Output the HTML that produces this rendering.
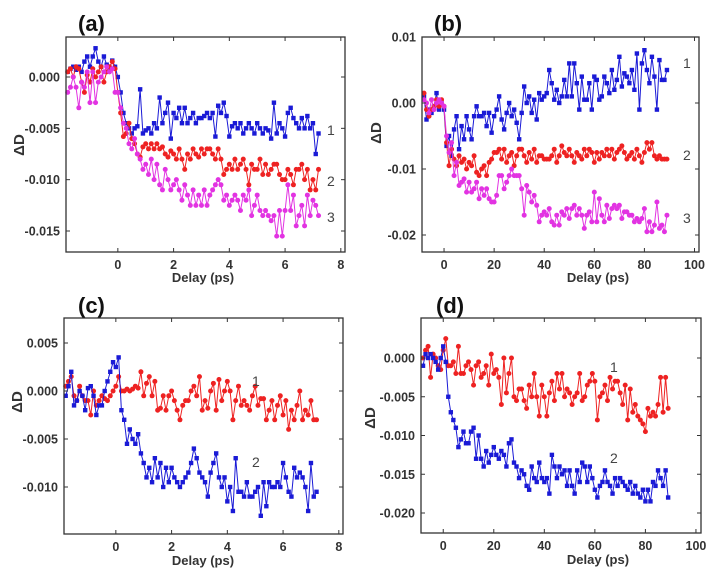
<!DOCTYPE html>
<html><head><meta charset="utf-8"><style>
html,body{margin:0;padding:0;background:#fff;}
svg{display:block;font-family:"Liberation Sans",Arial,sans-serif;}
.tk{font-size:12.5px;font-weight:bold;fill:#333;}
.pl{font-size:22px;font-weight:bold;fill:#111;}
.al{font-size:13px;font-weight:bold;fill:#333;}
.ay{font-size:15px;font-weight:bold;fill:#333;}
.sl{font-size:14px;fill:#444;}
</style></head><body>
<svg id="fig" width="722" height="579" viewBox="0 0 722 579"></svg>
<script>
// values in units of 1e-3 (ΔD × 1000)
const tShort = [-1.8,-1.7,-1.6,-1.5,-1.4,-1.3,-1.2,-1.1,-1.0,-0.9,-0.8,-0.7,-0.6,-0.5,-0.4,-0.3,-0.2,-0.1,0.0,0.1,0.2,0.3,0.4,0.5,0.6,0.7,0.8,0.9,1.0,1.1,1.2,1.3,1.4,1.5,1.6,1.7,1.8,1.9,2.0,2.1,2.2,2.3,2.4,2.5,2.6,2.7,2.8,2.9,3.0,3.1,3.2,3.3,3.4,3.5,3.6,3.7,3.8,3.9,4.0,4.1,4.2,4.3,4.4,4.5,4.6,4.7,4.8,4.9,5.0,5.1,5.2,5.3,5.4,5.5,5.6,5.7,5.8,5.9,6.0,6.1,6.2,6.3,6.4,6.5,6.6,6.7,6.8,6.9,7.0,7.1,7.2];
const tLong = [-8,-7,-6,-5,-4,-3,-2,-1,0,1,2,3,4,5,6,7,8,9,10,11,12,13,14,15,16,17,18,19,20,21,22,23,24,25,26,27,28,29,30,31,32,33,34,35,36,37,38,39,40,41,42,43,44,45,46,47,48,49,50,51,52,53,54,55,56,57,58,59,60,61,62,63,64,65,66,67,68,69,70,71,72,73,74,75,76,77,78,79,80,81,82,83,84,85,86,87,88,89];

const a1 = [0.5,0.8,1,0.7,1,0.5,1.5,2,1,2, 2.8,1.5,1,2,1.2,0.8,1.6,1,0,-1.5, -3.5,-4.5,-5,-5.5,-5,-4.8,-1.2,-5.5,-5.2,-5, -5.5,-4.5,-5,-2,-4.5,-3.5,-2.5,-6,-3.5,-4, -3,-4.5,-3,-4.5,-4,-3.5,-4.5,-4,-4,-3.8, -3.5,-4,-3.5,-5.8,-2.8,-3.5,-2.5,-3.8,-5.8,-4.8, -4.5,-5,-4.5,-5.5,-5,-4.5,-5,-5.5,-4.5,-5, -5.5,-5,-5.2,-6,-2.5,-5.5,-4.5,-5,-5.8,-3.5, -3,-4,-4.5,-5,-4,-5,-3.8,-5,-4.5,-7.5, -5.5];
const a2 = [0.5,0.8,0,1,0.8,-0.5,-1.5,0.2,-0.5,0.8, 0,0.5,1,-0.5,0.5,1,1.5,0.8,-1.5,-3.5, -5.8,-5.5,-4.5,-6,-6.5,-7.5,-7.8,-6.8,-6.5,-7, -6.5,-7,-6.5,-7,-6.8,-7.5,-7.8,-7.2,-7.5,-8, -7,-8,-9,-7.5,-8,-7,-7.5,-7.8,-7,-7.5, -7,-7,-7.5,-8,-7,-8,-9.5,-9,-8.5,-9, -8,-9,-8.5,-8,-9,-10.5,-8.5,-9,-9,-8, -9.5,-8.5,-9.5,-9,-8.5,-8.5,-9.5,-10,-10,-9, -9.5,-10.5,-9,-9,-8.5,-10,-9,-11,-10,-11, -9];
const a3 = [-1.5,-1,0,-1,-3,-0.5,-1,0.5,-2.5,0.5, -2.5,-0.5,0,0.5,1,0.5,0.8,-1.5,-1.5,-3, -4.5,-5,-6.5,-7,-6,-7.5,-8,-9,-8.5,-9.5, -8,-10,-8.5,-10.5,-11,-9,-10,-11,-10.5,-10, -11,-12,-10.5,-11.5,-12.5,-11,-12.5,-11.5,-12.5,-11, -12.5,-11.5,-11,-10.5,-10,-10.5,-12,-11.5,-12.5,-12, -11.5,-12,-13,-11.5,-12,-11,-13.5,-12.5,-11.5,-13, -13.5,-13,-13.5,-14,-13.5,-15.5,-13,-15.5,-13,-10.5, -13,-11.5,-14.5,-13.5,-12.5,-14.5,-11.5,-13.5,-12,-12.5, -13.5];

const c1 = [0.5,1,1.5,-0.5,-1,0.5,-0.5,-1,-1,-2.5, 0,-1.5,-1,-0.5,-0.8,-1,-0.5,0,0.5,1.5, 0,0,0.2,0,0.2,0.5,0.3,2,-0.5,0.8, 1.5,-0.5,1,-2,-1.8,-0.5,-2,-0.5,0,-1, -2,-3,-1.5,-1,-1,0,0.5,-0.5,1.5,-2, -1,-1.8,0,0.8,-2,1.2,-1,0,1,0, -3,-1,0.5,-1.5,-1,-1.5,-2,-0.5,0.5,-1.5, -0.8,-0.8,-3,-2,-1,-3,-1.5,-0.5,-2.5,-1, -4,-2,-3,-1.5,0,-3,-2,-2.5,-1,-3, -3];
const c2 = [-0.5,0.5,2,-1.5,-1,0,-0.5,-2,0.3,0.5, -0.5,-2.5,-1.5,-1.5,0,1,2,3,2.5,3.5, -2,-3,-5.5,-4,-5,-5.5,-4.5,-6.5,-7.5,-9, -8,-9.5,-7,-9,-7.5,-10,-8,-9.5,-8,-9, -9.5,-10,-9.5,-9,-8.5,-7.5,-6,-7,-8.5,-9, -9.5,-11,-8.5,-7.5,-6.5,-9,-10,-9,-11.5,-10, -12.5,-7,-10.5,-10.5,-11,-9.5,-11,-11,-10.5,-10, -13,-9.5,-12,-9.5,-10,-10,-9.5,-10,-7.5,-9, -10.5,-11,-8,-9,-8.5,-9,-10,-12.5,-7.5,-11, -10.5];

const b1 = [1,-2.5,-1,-1.5,-0.5,1.5,-1,0,-1,-6.5, -5,-8,-4,-2,-7,-3.5,-5.5,-2,-4,-5.5, -2,-0.5,-2,-2,-1.5,-3.5,-1.5,-4.5,-2,-1, 1,-2.5,-4,-1.5,0,-2,-1,-3,-5.5,-1.5, 2.5,0,1,-1.5,0.5,-2.5,1.5,0.5,1,1.5, 5,3,0.5,2,0,1,3.5,1,6,1, 6,3,-1,4,0.5,0.5,3,-1,4,3.5, 0.5,1,4,3,1.5,5,2,3.5,7,2.5, 4.5,4,3,5,2,7.5,-1,6,8,5, 3,7,4,-1,6.5,3.5,3.5,5];
const b2 = [1.5,-1,-2,-1,-0.5,0.5,-0.5,0.5,-0.5,-6, -9.5,-7,-8.5,-9.5,-8,-9,-8.5,-10,-9,-9.5, -8,-10.5,-11,-10,-9.5,-11,-9,-8.5,-7.5,-7.5, -7,-8.5,-7,-9,-8,-7.5,-9.5,-8,-7,-7, -8,-9,-7.5,-8.5,-7,-9,-8,-8,-8.5,-8.5, -8.5,-8,-7,-9,-8,-6.5,-7.5,-8,-7,-8, -9,-7.5,-8,-8.5,-7,-8,-7,-7.5,-9,-7.5, -8.5,-7.5,-8,-7,-8,-7,-8.5,-7.5,-7,-6.5, -7.5,-8.5,-8,-7.5,-8.5,-7,-8,-9,-7.5,-6, -7,-6,-8,-8.5,-8,-8.5,-8.5,-8.5];
const b3 = [0.5,0,-1.5,0.5,-1,0,0.5,0,-0.5,-5, -7.5,-6,-11,-9,-12.5,-12,-11.5,-13.5,-12,-13.5, -13,-12,-14.5,-13,-14,-13,-14.5,-15,-15,-14, -11,-11,-13,-12,-11,-10,-11,-11,-11,-13, -17,-12.5,-13.5,-15,-14,-15.5,-18,-17,-16.5,-17, -16,-18,-18.5,-17,-18.5,-16.5,-17,-16,-17.5,-16, -15.5,-17,-16,-17,-19,-17,-16.5,-18,-13.5,-18, -14.5,-17,-18,-15.5,-17.5,-16,-15.5,-16,-15.5,-17.5, -16.5,-16.5,-17,-17,-18,-17.5,-18,-17.5,-16,-19.5, -18,-19.5,-18.5,-15,-19,-18.5,-19.5,-17];

const d1 = [0,1,1.5,-2.5,0.5,0,-1,-1.5,1,2.5, -1,-1,-0.5,-2,1.5,-2,-2,-1,-0.5,-1.5, -3.5,-1,-0.5,-2.5,-2,-1,-3.5,0.5,-2,-1.5, -2.5,-6,0,-4.5,-2,0,-5,-5.5,-4,-4, -5.5,-6.5,-3.5,-5,-2,-5,-7.5,-3.5,-5,-7.5, -4.5,-3,-5.5,-2,-4,-2,-5,-4,-4.5,-6, -5,-4.5,-2,-5.5,-5,-3.5,-3,-2,-3,-8, -5,-4.5,-3.5,-5.5,-2.5,-4,-3,-3,-4.5,-6, -3.5,-8,-4,-7,-6,-7.5,-8,-8.5,-9.5,-6.5, -7.5,-7,-7.5,-6,-2.5,-7,-2.5,-6.5];
const d2 = [-1,0.5,0,0.5,0,-0.5,-1.5,0,1.5,-0.5, -5,-7,-8,-9,-11.5,-10.5,-9.5,-11,-11,-9.5, -9,-13,-10,-13,-14,-12,-13.5,-12.5,-11.5,-12.5, -13,-12,-12.5,-14,-11,-10.5,-13.5,-14,-15.5,-14.5, -15,-16.5,-17,-14,-15.5,-16,-13.5,-15.5,-16,-15.5, -17.5,-12.5,-14,-15.5,-14,-15,-14.5,-16.5,-14.5,-16.5, -17.5,-14.5,-16,-13.5,-14,-16,-14,-15.5,-17,-18, -16.5,-16,-14.5,-16,-16.5,-17.5,-15.5,-16.5,-15.5,-16, -16.5,-17,-16,-17.5,-16.5,-17.5,-18,-17,-18.5,-17, -18.5,-16,-16.5,-14.5,-15.5,-16.5,-14.5,-18];

const xTicksShort = [0,2,4,6,8];
const xTicksLong = [0,20,40,60,80,100];
const yTicksA = [0,-5,-10,-15];
const yTicksB = [10,0,-10,-20];
const yTicksC = [5,0,-5,-10];
const yTicksD = [0,-5,-10,-15,-20];
const yLabelsA = ["0.000","-0.005","-0.010","-0.015"];
const yLabelsB = ["0.01","0.00","-0.01","-0.02"];
const yLabelsC = ["0.005","0.000","-0.005","-0.010"];
const yLabelsD = ["0.000","-0.005","-0.010","-0.015","-0.020"];

const BLUE="#1a1ad6", RED="#ee2222", MAG="#e233e2";
const NS="http://www.w3.org/2000/svg";
const svg=document.getElementById('fig');
function mk(tag,attrs,parent){const e=document.createElementNS(NS,tag);for(const k in attrs)e.setAttribute(k,attrs[k]);(parent||svg).appendChild(e);return e;}

function panel(p){
  const g=mk('g',{});
  
  
  const X=v=>p.x0+(v-p.xmin)/(p.xmax-p.xmin)*(p.x1-p.x0);
  const Y=v=>p.yRef0+(v-p.yv0)/(p.yv1-p.yv0)*(p.yRef1-p.yRef0);
  p.series.forEach((s,si)=>{
    const sg=mk('g',{},g);
    
    
    let d='';
    s.ys.forEach((v,i)=>{d+=(i?'L':'M')+X(p.xs[i]).toFixed(1)+' '+Y(v).toFixed(1);});
    const pa=mk('path',{d:d,fill:'none',stroke:s.color,'stroke-width':1},sg);
    
    
    s.ys.forEach((v,i)=>{
      let m;
      if(s.shape==='sq') m=mk('rect',{x:X(p.xs[i])-2.2,y:Y(v)-2.2,width:4.4,height:4.4,fill:s.color},sg);
      else m=mk('circle',{cx:X(p.xs[i]),cy:Y(v),r:2.5,fill:s.color},sg);
      
      
    });
    const t=mk('text',{x:s.lx,y:s.ly,'class':'sl'},g);t.textContent=s.name;
    
    
  });
  const fr=mk('rect',{x:p.x0,y:p.y0,width:p.x1-p.x0,height:p.y1-p.y0,fill:'none',stroke:'#333','stroke-width':1.3},g);
  
  
  p.xt.forEach(v=>{
    const x=X(v);
    mk('line',{x1:x,x2:x,y1:p.y1,y2:p.y1-4,stroke:'#333'},g);
    mk('line',{x1:x,x2:x,y1:p.y0,y2:p.y0+4,stroke:'#333'},g);
    const t=mk('text',{x:x,y:p.y1+17,'text-anchor':'middle','class':'tk'},g);t.textContent=v;
    
    
  });
  p.yt.forEach((v,i)=>{
    const y=Y(v);
    mk('line',{x1:p.x0,x2:p.x0+4,y1:y,y2:y,stroke:'#333'},g);
    mk('line',{x1:p.x1,x2:p.x1-4,y1:y,y2:y,stroke:'#333'},g);
    const t=mk('text',{x:p.x0-6,y:y+4.5,'text-anchor':'end','class':'tk'},g);t.textContent=p.yl[i];
    
    
  });
  const xl=mk('text',{x:p.xlx,y:p.xly,'text-anchor':'middle','class':'al'},g);xl.textContent='Delay (ps)';
  
  
  const yl=mk('text',{x:0,y:0,'text-anchor':'middle','class':'ay',transform:`translate(${p.ylx},${p.yly}) rotate(-90)`},g);yl.textContent='ΔD';
  
  
  const pl=mk('text',{x:p.plx,y:p.ply,'class':'pl'},g);pl.textContent='('+p.id+')';
  
  
}

panel({id:'a',x0:66,x1:345,y0:37,y1:252,xmin:-1.86,xmax:8.15,yv0:0,yv1:-15,yRef0:77,yRef1:231,
  xs:tShort,xt:xTicksShort,yt:yTicksA,yl:yLabelsA,xlx:203,xly:282,ylx:24,yly:145,plx:78,ply:31,
  series:[{name:'1',ys:a1,color:BLUE,shape:'sq',lx:327,ly:135},{name:'2',ys:a2,color:RED,shape:'c',lx:327,ly:186},{name:'3',ys:a3,color:MAG,shape:'c',lx:327,ly:222}]});
panel({id:'b',x0:422,x1:699,y0:37,y1:252,xmin:-8.8,xmax:101.8,yv0:0,yv1:-20,yRef0:103,yRef1:235,
  xs:tLong,xt:xTicksLong,yt:yTicksB,yl:yLabelsB,xlx:598,xly:282,ylx:381,yly:133,plx:434,ply:31,
  series:[{name:'1',ys:b1,color:BLUE,shape:'sq',lx:683,ly:68},{name:'2',ys:b2,color:RED,shape:'c',lx:683,ly:160},{name:'3',ys:b3,color:MAG,shape:'c',lx:683,ly:223}]});
panel({id:'c',x0:64,x1:343,y0:318,y1:534,xmin:-1.86,xmax:8.15,yv0:0,yv1:-10,yRef0:391,yRef1:487,
  xs:tShort,xt:xTicksShort,yt:yTicksC,yl:yLabelsC,xlx:203,xly:565,ylx:22,yly:402,plx:78,ply:313,
  series:[{name:'1',ys:c1,color:RED,shape:'c',lx:252,ly:386},{name:'2',ys:c2,color:BLUE,shape:'sq',lx:252,ly:467}]});
panel({id:'d',x0:421,x1:701,y0:318,y1:533,xmin:-8.8,xmax:102,yv0:0,yv1:-20,yRef0:358,yRef1:513,
  xs:tLong,xt:xTicksLong,yt:yTicksD,yl:yLabelsD,xlx:598,xly:564,ylx:375,yly:418,plx:436,ply:313,
  series:[{name:'1',ys:d1,color:RED,shape:'c',lx:610,ly:372},{name:'2',ys:d2,color:BLUE,shape:'sq',lx:610,ly:463}]});
</script>
</body></html>
